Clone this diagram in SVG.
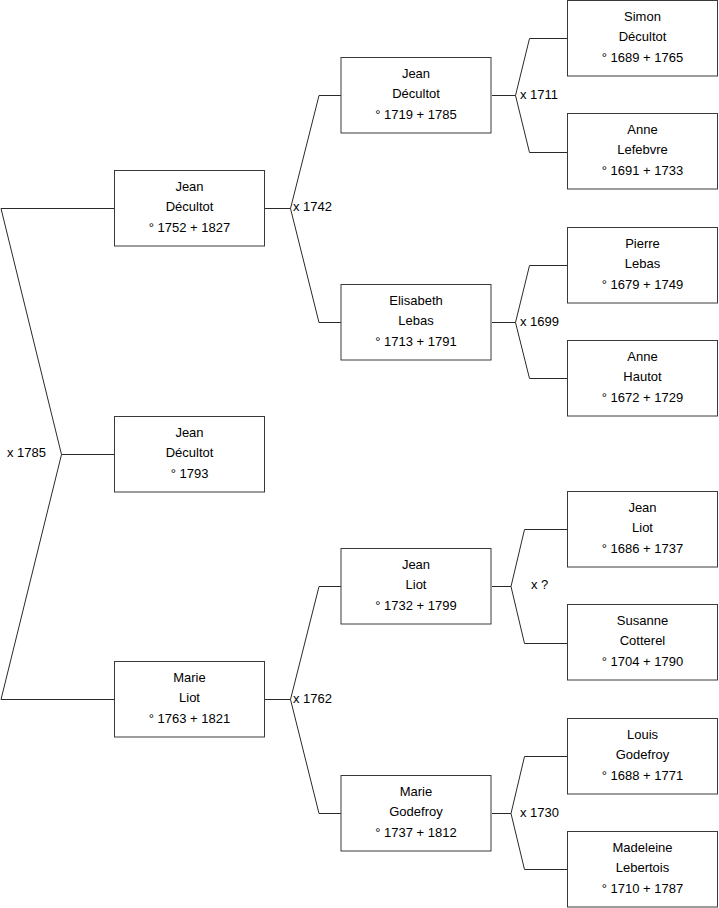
<svg xmlns="http://www.w3.org/2000/svg" width="719" height="908" viewBox="0 0 719 908">
<style>
.box rect{fill:#fff;stroke:#3a3a3a;stroke-width:1}
text{font-family:"Liberation Sans",Arial,sans-serif;font-size:13px;fill:#000}
.box text{text-anchor:middle}
#connectors path{fill:none;stroke:#2a2a2a;stroke-width:1}
</style>
<rect width="719" height="908" fill="#fff"/>
<g id="connectors">
<path d="M114,208.5H1L61.5,454.5L1,699.5H114M61.5,454.5H114"/>
<text x="7" y="456.5">x 1785</text>
<path d="M265,208.5H290.5M319,95.5L290.5,208.5L319,322.5M319,95.5H341M319,322.5H341"/>
<text x="293" y="211">x 1742</text>
<path d="M265,699.5H290.5M319,586.5L290.5,699.5L319,813.5M319,586.5H341M319,813.5H341"/>
<text x="293" y="702.5">x 1762</text>
<path d="M492,95.5H515.5M529.5,38.5L515.5,95.5L529.5,152.5M529.5,38.5H567M529.5,152.5H567"/>
<text x="520" y="98.5">x 1711</text>
<path d="M492,322.5H515.5M529.5,265.5L515.5,322.5L529.5,378.5M529.5,265.5H567M529.5,378.5H567"/>
<text x="520" y="325.5">x 1699</text>
<path d="M492,586.5H511M524.5,529.5L511,586.5L524.5,643.5M524.5,529.5H567M524.5,643.5H567"/>
<text x="531" y="589">x ?</text>
<path d="M492,813.5H511M524.5,756.5L511,813.5L524.5,869.5M524.5,756.5H567M524.5,869.5H567"/>
<text x="520" y="816.5">x 1730</text>
</g>
<g id="n_jean_1752" class="box"><rect x="114.5" y="170.5" width="150" height="75.5"/><text x="189.5" y="191">Jean</text><text x="189.5" y="211">Décultot</text><text x="189.5" y="231.5">° 1752 + 1827</text></g>
<g id="n_jean_1793" class="box"><rect x="114.5" y="416.5" width="150" height="75.5"/><text x="189.5" y="437">Jean</text><text x="189.5" y="457">Décultot</text><text x="189.5" y="477.5">° 1793</text></g>
<g id="n_marie_liot" class="box"><rect x="114.5" y="661.5" width="150" height="75.5"/><text x="189.5" y="682">Marie</text><text x="189.5" y="702">Liot</text><text x="189.5" y="722.5">° 1763 + 1821</text></g>
<g id="n_jean_1719" class="box"><rect x="341" y="57.5" width="150" height="75.5"/><text x="416" y="78">Jean</text><text x="416" y="98">Décultot</text><text x="416" y="118.5">° 1719 + 1785</text></g>
<g id="n_elisabeth" class="box"><rect x="341" y="284.5" width="150" height="75.5"/><text x="416" y="305">Elisabeth</text><text x="416" y="325">Lebas</text><text x="416" y="345.5">° 1713 + 1791</text></g>
<g id="n_jean_liot_1732" class="box"><rect x="341" y="548.5" width="150" height="75.5"/><text x="416" y="569">Jean</text><text x="416" y="589">Liot</text><text x="416" y="609.5">° 1732 + 1799</text></g>
<g id="n_marie_godefroy" class="box"><rect x="341" y="775.5" width="150" height="75.5"/><text x="416" y="796">Marie</text><text x="416" y="816">Godefroy</text><text x="416" y="836.5">° 1737 + 1812</text></g>
<g id="n_simon" class="box"><rect x="567.5" y="0.5" width="150" height="75.5"/><text x="642.5" y="21">Simon</text><text x="642.5" y="41">Décultot</text><text x="642.5" y="61.5">° 1689 + 1765</text></g>
<g id="n_anne_lefebvre" class="box"><rect x="567.5" y="113.5" width="150" height="75.5"/><text x="642.5" y="134">Anne</text><text x="642.5" y="154">Lefebvre</text><text x="642.5" y="174.5">° 1691 + 1733</text></g>
<g id="n_pierre" class="box"><rect x="567.5" y="227.5" width="150" height="75.5"/><text x="642.5" y="248">Pierre</text><text x="642.5" y="268">Lebas</text><text x="642.5" y="288.5">° 1679 + 1749</text></g>
<g id="n_anne_hautot" class="box"><rect x="567.5" y="340.5" width="150" height="75.5"/><text x="642.5" y="361">Anne</text><text x="642.5" y="381">Hautot</text><text x="642.5" y="401.5">° 1672 + 1729</text></g>
<g id="n_jean_liot_1686" class="box"><rect x="567.5" y="491.5" width="150" height="75.5"/><text x="642.5" y="512">Jean</text><text x="642.5" y="532">Liot</text><text x="642.5" y="552.5">° 1686 + 1737</text></g>
<g id="n_susanne" class="box"><rect x="567.5" y="604.5" width="150" height="75.5"/><text x="642.5" y="625">Susanne</text><text x="642.5" y="645">Cotterel</text><text x="642.5" y="665.5">° 1704 + 1790</text></g>
<g id="n_louis" class="box"><rect x="567.5" y="718.5" width="150" height="75.5"/><text x="642.5" y="739">Louis</text><text x="642.5" y="759">Godefroy</text><text x="642.5" y="779.5">° 1688 + 1771</text></g>
<g id="n_madeleine" class="box"><rect x="567.5" y="831.5" width="150" height="75.5"/><text x="642.5" y="852">Madeleine</text><text x="642.5" y="872">Lebertois</text><text x="642.5" y="892.5">° 1710 + 1787</text></g>
</svg>
